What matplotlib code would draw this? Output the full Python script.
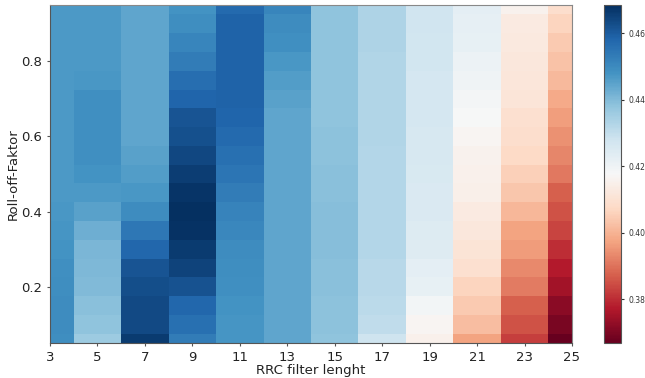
"""
Heatmap of a metric over RRC filter length and roll-off factor
"""

import numpy as np
import matplotlib
matplotlib.use('Agg')
import matplotlib.pyplot as plt

# filter lengths (x) and roll-off factors (y)
filter_lengths = [3, 5, 7, 9, 11, 13, 15, 17, 19, 21, 23, 25]
rolloffs = [0.05, 0.10, 0.15, 0.20, 0.25, 0.30, 0.35, 0.40, 0.45, 0.50,
            0.55, 0.60, 0.65, 0.70, 0.75, 0.80, 0.85, 0.90, 0.95]

# one column per filter length, rows ordered by roll-off (bottom to top)
col_3 = [0.4491, 0.4496, 0.4496, 0.4491, 0.4486, 0.4481, 0.4476, 0.4471, 0.4466, 0.4466,
         0.4466, 0.4466, 0.4466, 0.4466, 0.4466, 0.4466, 0.4466, 0.4466, 0.4466]
col_5 = [0.4359, 0.4379, 0.4389, 0.4400, 0.4405, 0.4410, 0.4425, 0.4450, 0.4466, 0.4481,
         0.4486, 0.4486, 0.4486, 0.4486, 0.4471, 0.4466, 0.4466, 0.4466, 0.4466]
col_7 = [0.4664, 0.4633, 0.4633, 0.4628, 0.4613, 0.4577, 0.4542, 0.4496, 0.4471, 0.4461,
         0.4450, 0.4445, 0.4445, 0.4445, 0.4445, 0.4445, 0.4445, 0.4445, 0.4445]
col_9 = [0.4532, 0.4557, 0.4577, 0.4618, 0.4648, 0.4664, 0.4679, 0.4684, 0.4674, 0.4659,
         0.4638, 0.4623, 0.4613, 0.4582, 0.4562, 0.4532, 0.4511, 0.4491, 0.4481]
col_11 = [0.4476, 0.4476, 0.4481, 0.4486, 0.4491, 0.4496, 0.4506, 0.4516, 0.4532, 0.4547,
          0.4557, 0.4572, 0.4582, 0.4588, 0.4588, 0.4588, 0.4588, 0.4588, 0.4572]
col_13 = [0.4445, 0.4445, 0.4445, 0.4445, 0.4445, 0.4445, 0.4445, 0.4445, 0.4445, 0.4445,
          0.4445, 0.4445, 0.4445, 0.4450, 0.4461, 0.4471, 0.4486, 0.4496, 0.4511]
col_15 = [0.4379, 0.4384, 0.4384, 0.4389, 0.4389, 0.4394, 0.4394, 0.4394, 0.4389, 0.4389,
          0.4384, 0.4384, 0.4379, 0.4379, 0.4379, 0.4379, 0.4379, 0.4379, 0.4379]
col_17 = [0.4283, 0.4303, 0.4313, 0.4318, 0.4318, 0.4323, 0.4323, 0.4323, 0.4323, 0.4323,
          0.4323, 0.4328, 0.4328, 0.4328, 0.4328, 0.4328, 0.4334, 0.4334, 0.4334]
col_19 = [0.4151, 0.4166, 0.4191, 0.4217, 0.4227, 0.4242, 0.4247, 0.4252, 0.4252, 0.4257,
          0.4262, 0.4262, 0.4267, 0.4267, 0.4267, 0.4273, 0.4273, 0.4278, 0.4278]
col_21 = [0.3973, 0.4019, 0.4044, 0.4064, 0.4095, 0.4105, 0.4120, 0.4130, 0.4146, 0.4151,
          0.4156, 0.4166, 0.4176, 0.4186, 0.4196, 0.4207, 0.4217, 0.4222, 0.4227]
col_23 = [0.3826, 0.3851, 0.3871, 0.3912, 0.3932, 0.3958, 0.3973, 0.4008, 0.4034, 0.4054,
          0.4074, 0.4085, 0.4095, 0.4110, 0.4115, 0.4120, 0.4125, 0.4130, 0.4156]
col_25 = [0.3668, 0.3693, 0.3719, 0.3749, 0.3775, 0.3800, 0.3831, 0.3851, 0.3871, 0.3907,
          0.3927, 0.3942, 0.3963, 0.3983, 0.4013, 0.4029, 0.4044, 0.4064, 0.4085]

xticks = [3, 5, 7, 9, 11, 13, 15, 17, 19, 21, 23, 25]
yticks = [0.2, 0.4, 0.6, 0.8]
cbar_ticks = [0.38, 0.40, 0.42, 0.44, 0.46]


def plot_heatmap():
    grid = np.array([col_3, col_5, col_7, col_9, col_11, col_13, col_15,
                     col_17, col_19, col_21, col_23, col_25]).T

    fig = plt.figure(figsize=(6.45, 3.78), dpi=100)
    ax = fig.add_axes([0.0775, 0.0926, 0.8093, 0.894])
    cax = fig.add_axes([0.9364, 0.0926, 0.0264, 0.894])

    mesh = ax.pcolormesh(filter_lengths, rolloffs, grid, cmap='RdBu',
                         shading='nearest', vmin=grid.min(), vmax=grid.max())
    ax.set_xlim(3, 25)
    ax.set_ylim(0.05, 0.95)
    ax.set_xticks(xticks)
    ax.set_yticks(yticks)
    ax.tick_params(labelsize=9.5, length=2, color='#555555', labelcolor='#222222')
    ax.set_xlabel('RRC filter lenght', fontsize=9.5, labelpad=0.2, color='#222222')
    ax.set_ylabel('Roll-off-Faktor', fontsize=9.5, labelpad=1, color='#222222')
    for side, spine in ax.spines.items():
        spine.set_color('#888888' if side in ('top', 'right') else '#555555')
        spine.set_linewidth(0.8)

    cb = fig.colorbar(mesh, cax=cax, ticks=cbar_ticks)
    cb.ax.tick_params(labelsize=5.5, length=2, colors='#333333')
    cb.ax.set_yticklabels(['%.2f' % t for t in cbar_ticks])
    cb.outline.set_edgecolor('#555555')
    cb.outline.set_linewidth(0.8)

    fig.savefig('out.png', dpi=100)


if __name__ == "__main__":
    plot_heatmap()
